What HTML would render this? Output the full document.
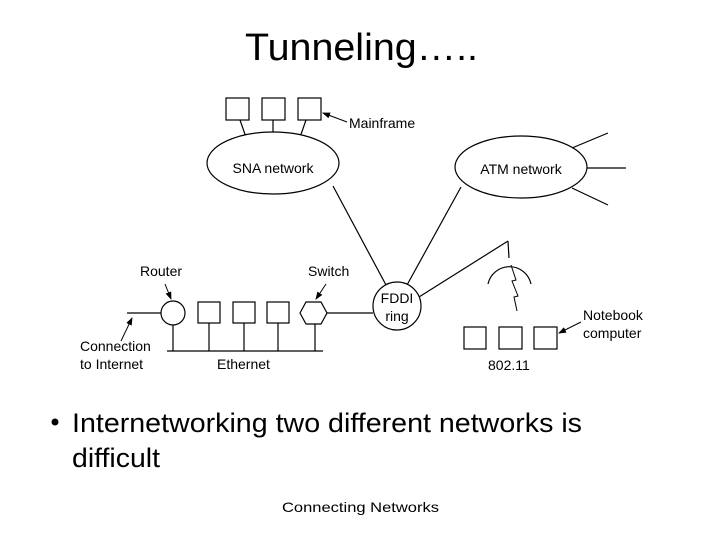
<!DOCTYPE html>
<html><head><style>html,body{margin:0;padding:0;background:#fff}svg{display:block}</style></head>
<body>
<svg width="720" height="540" xmlns="http://www.w3.org/2000/svg">
<defs><marker id="a" markerWidth="8" markerHeight="6" refX="7" refY="3" orient="auto"><path d="M0,0 L8,3 L0,6 z" fill="#000"/></marker></defs>
<text x="245" y="60" font-family="Liberation Sans, sans-serif" font-size="38" textLength="233" lengthAdjust="spacingAndGlyphs">Tunneling…..</text>
<g stroke="#000" stroke-width="1.2" fill="#fff">
<rect x="226" y="98" width="23" height="22"/><rect x="262" y="98" width="23" height="22"/><rect x="298" y="98" width="23" height="22"/>
<line x1="240" y1="120" x2="248" y2="143"/><line x1="273" y1="120" x2="273" y2="143"/><line x1="306" y1="120" x2="298" y2="143"/>
<ellipse cx="273" cy="163" rx="66" ry="31"/>
<ellipse cx="521" cy="167" rx="66" ry="31"/>
<line x1="572" y1="148" x2="608" y2="133"/><line x1="587" y1="168" x2="626" y2="168"/><line x1="572" y1="188" x2="608" y2="205"/>
<line x1="333" y1="186" x2="386" y2="285"/>
<line x1="407" y1="285" x2="461" y2="187"/>
<line x1="419" y1="297" x2="508" y2="241"/><line x1="508" y1="241" x2="509" y2="258"/>
<path d="M488,284 A22,22 0 0 1 531,284" fill="none"/>
<polyline points="511,265 516,280 512,281 518,296 514,297 517,311" fill="none" stroke-width="1"/>
<circle cx="397" cy="306" r="24"/>
<line x1="327" y1="313" x2="373" y2="313"/>
<line x1="167" y1="351" x2="323" y2="351"/>
<line x1="173" y1="325" x2="173" y2="351"/><line x1="209" y1="323" x2="209" y2="351"/><line x1="244" y1="323" x2="244" y2="351"/><line x1="278" y1="323" x2="278" y2="351"/><line x1="315" y1="324" x2="315" y2="351"/>
<line x1="127" y1="313" x2="161" y2="313"/>
<circle cx="173" cy="313" r="12"/>
<rect x="198" y="302" width="22" height="21"/><rect x="233" y="302" width="22" height="21"/><rect x="267" y="302" width="22" height="21"/>
<polygon points="300,313 306,302 321,302 327,313 321,324 306,324"/>
<rect x="464" y="327" width="22" height="22"/><rect x="499" y="327" width="23" height="22"/><rect x="534" y="327" width="23" height="22"/>
</g>
<g stroke="#000" stroke-width="1" marker-end="url(#a)">
<line x1="347" y1="122" x2="323" y2="113"/>
<line x1="165" y1="284" x2="171" y2="299"/>
<line x1="326" y1="284" x2="316" y2="299"/>
<line x1="121" y1="341" x2="132" y2="318"/>
<line x1="581" y1="322" x2="559" y2="333"/>
</g>
<g font-family="Liberation Sans, sans-serif" font-size="14">
<text x="273" y="173" text-anchor="middle">SNA network</text>
<text x="521" y="174" text-anchor="middle">ATM network</text>
<text x="349" y="128">Mainframe</text>
<text x="140" y="276">Router</text>
<text x="308" y="276">Switch</text>
<text x="397" y="303" text-anchor="middle">FDDI</text>
<text x="397" y="321" text-anchor="middle">ring</text>
<text x="80" y="351">Connection</text>
<text x="80" y="369">to Internet</text>
<text x="217" y="369">Ethernet</text>
<text x="583" y="320">Notebook</text>
<text x="583" y="338">computer</text>
<text x="488" y="370">802.11</text>
</g>
<circle cx="55" cy="422" r="3.5" fill="#000"/>
<g font-family="Liberation Sans, sans-serif" font-size="27">
<text x="72" y="432" textLength="510" lengthAdjust="spacingAndGlyphs">Internetworking two different networks is</text>
<text x="72" y="467" textLength="88" lengthAdjust="spacingAndGlyphs">difficult</text>
</g>
<text x="282" y="512" font-family="Liberation Sans, sans-serif" font-size="14" textLength="157" lengthAdjust="spacingAndGlyphs">Connecting Networks</text>
</svg>
</body></html>
